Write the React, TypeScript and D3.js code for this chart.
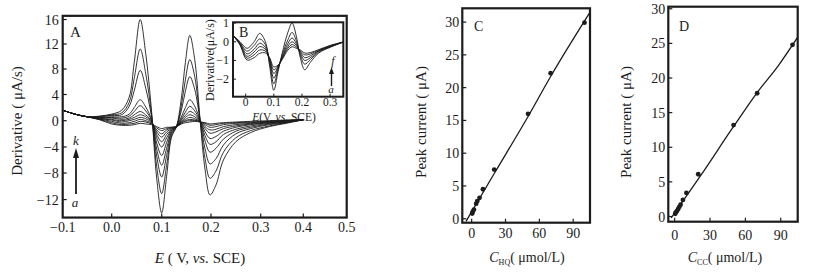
import React from 'react';
import * as d3 from 'd3';

// ---------- Panel A data (derivative voltammograms, curves a..k) ----------
const potA = [-0.1, -0.075, -0.05, -0.025, 0, 0.02, 0.035, 0.045, 0.057, 0.068, 0.08, 0.09, 0.1, 0.11, 0.12, 0.13, 0.14, 0.148, 0.157, 0.167, 0.178, 0.188, 0.198, 0.21, 0.225, 0.25, 0.28, 0.32, 0.36, 0.4];
const curveA_a = [1.6, 1.0, 0.6, 0.15, -0.5, -0.7, -0.7, -0.6, -0.4, -0.5, -0.6, -0.9, -1.2, -1.0, -1.0, -0.9, -0.5, -0.3, -0.2, -0.1, -0.2, -0.3, -0.5, -0.4, -0.3, -0.2, -0.1, 0.0, 0.1, 0.15];
const curveA_b = [1.6, 1.0, 0.6, 0.2, -0.3, -0.6, -0.5, -0.4, -0.1, -0.2, -0.5, -1.1, -1.5, -1.2, -1.0, -0.9, -0.4, -0.1, 0.0, 0.0, -0.15, -0.4, -0.7, -0.6, -0.4, -0.3, -0.2, -0.1, 0.05, 0.15];
const curveA_c = [1.6, 1.0, 0.6, 0.25, -0.1, -0.4, -0.3, -0.1, 0.2, 0.0, -0.4, -1.4, -2.0, -1.4, -1.1, -0.9, -0.3, 0.0, 0.2, 0.1, -0.15, -0.6, -1.0, -0.9, -0.6, -0.4, -0.3, -0.1, 0.0, 0.15];
const curveA_d = [1.6, 1.0, 0.6, 0.3, 0.1, -0.2, 0.0, 0.2, 0.5, 0.3, -0.3, -1.7, -2.5, -1.7, -1.2, -0.9, -0.2, 0.2, 0.5, 0.3, -0.1, -0.9, -1.4, -1.3, -0.9, -0.6, -0.4, -0.2, 0.0, 0.15];
const curveA_e = [1.6, 1.0, 0.6, 0.35, 0.2, 0.0, 0.2, 0.5, 0.9, 0.6, -0.2, -2.1, -3.2, -2.1, -1.3, -0.9, -0.1, 0.5, 0.9, 0.6, -0.1, -1.2, -1.9, -1.7, -1.2, -0.8, -0.5, -0.3, -0.1, 0.15];
const curveA_f = [1.6, 1.0, 0.6, 0.4, 0.4, 0.2, 0.4, 0.9, 1.4, 0.9, -0.1, -2.6, -4.0, -2.6, -1.4, -0.9, 0.1, 0.8, 1.4, 1.0, -0.1, -1.7, -2.7, -2.4, -1.6, -1.0, -0.6, -0.3, -0.1, 0.15];
const curveA_g = [1.6, 1.0, 0.6, 0.45, 0.5, 0.4, 0.7, 1.4, 2.3, 1.5, 0.0, -3.4, -5.3, -3.3, -1.5, -0.9, 0.3, 1.3, 2.2, 1.5, -0.05, -2.3, -3.6, -3.2, -2.1, -1.3, -0.8, -0.4, -0.2, 0.15];
const curveA_h = [1.6, 1.0, 0.6, 0.5, 0.6, 0.6, 1.0, 2.0, 3.2, 2.1, 0.1, -4.3, -6.8, -4.2, -1.7, -0.9, 0.6, 2.0, 3.2, 2.2, -0.05, -3.1, -4.8, -4.2, -2.8, -1.6, -1.0, -0.5, -0.2, 0.15];
const curveA_i = [1.6, 1.0, 0.6, 0.6, 0.8, 0.9, 2.2, 4.6, 7.8, 5.0, 0.5, -5.4, -8.6, -5.3, -1.9, -0.9, 1.6, 4.5, 6.8, 4.8, 0.0, -4.3, -6.6, -5.8, -3.7, -2.0, -1.2, -0.6, -0.3, 0.15];
const curveA_j = [1.6, 1.0, 0.6, 0.65, 0.9, 1.2, 2.8, 6.5, 11.2, 7.3, 0.8, -7.0, -11.1, -6.8, -2.2, -0.9, 2.4, 6.3, 9.5, 6.8, 0.0, -5.8, -8.8, -7.7, -4.8, -2.6, -1.5, -0.8, -0.3, 0.15];
const curveA_k = [1.6, 1.0, 0.6, 0.7, 1.0, 1.6, 3.6, 9.0, 16.0, 10.5, 1.2, -8.8, -14.0, -8.5, -2.5, -0.9, 3.5, 9.0, 13.4, 9.5, 0.0, -7.5, -11.3, -9.8, -6.0, -3.2, -1.8, -0.9, -0.4, 0.15];
const seriesA = [curveA_a, curveA_b, curveA_c, curveA_d, curveA_e, curveA_f, curveA_g, curveA_h, curveA_i, curveA_j, curveA_k];
const ticksAx = [-0.1, 0, 0.1, 0.2, 0.3, 0.4, 0.5];
const labelsAx = ['\u22120.1', '0.0', '0.1', '0.2', '0.3', '0.4', '0.5'];
const ticksAy = [16, 12, 8, 4, 0, -4, -8, -12];

// ---------- Inset B data (curves a..f) ----------
const potB = [-0.045, -0.02, 0.005, 0.03, 0.05, 0.07, 0.085, 0.1, 0.115, 0.13, 0.15, 0.165, 0.18, 0.195, 0.21, 0.23, 0.26, 0.3, 0.35];
const curveB_a = [0.35, -0.18, -0.98, -0.85, -0.62, -0.6, -0.85, -1.35, -1.25, -0.95, -0.45, -0.27, -0.35, -0.45, -0.6, -0.58, -0.42, -0.2, 0.0];
const curveB_b = [0.35, -0.15, -0.88, -0.7, -0.44, -0.5, -0.9, -1.5, -1.3, -0.9, -0.35, -0.15, -0.28, -0.5, -0.7, -0.65, -0.45, -0.22, 0.0];
const curveB_c = [0.35, -0.12, -0.78, -0.55, -0.26, -0.4, -0.95, -1.7, -1.35, -0.85, -0.25, 0.0, -0.2, -0.55, -0.85, -0.75, -0.48, -0.24, 0.0];
const curveB_d = [0.35, -0.1, -0.65, -0.4, -0.08, -0.3, -1.0, -1.95, -1.4, -0.8, -0.1, 0.2, -0.1, -0.65, -1.0, -0.85, -0.5, -0.26, 0.0];
const curveB_e = [0.35, -0.05, -0.5, -0.2, 0.15, -0.15, -1.1, -2.25, -1.5, -0.7, 0.1, 0.5, 0.05, -0.75, -1.2, -0.95, -0.55, -0.28, 0.0];
const curveB_f = [0.35, 0.0, -0.35, 0.0, 0.45, 0.0, -1.3, -2.6, -1.6, -0.6, 0.5, 1.0, 0.3, -0.9, -1.5, -1.1, -0.6, -0.3, 0.0];
const seriesB = [curveB_a, curveB_b, curveB_c, curveB_d, curveB_e, curveB_f];
const ticksBx = [0, 0.1, 0.2, 0.3];
const labelsBx = ['0', '0.1', '0.2', '0.3'];
const ticksBy = [1, 0, -1, -2];

// ---------- Panel C data (HQ calibration) ----------
const concHQ = [0.5, 1, 2, 4, 5, 7, 10, 20, 50, 70, 100];
const currentHQ = [0.8, 1.1, 1.4, 2.3, 2.7, 3.2, 4.5, 7.5, 16.0, 22.2, 29.9];
const fitHQx = [-5, 20, 50, 70, 106];
const fitHQy = [-0.4, 6.9, 15.6, 21.7, 31.8];

// ---------- Panel D data (CC calibration) ----------
const concCC = [0.5, 1, 2, 3, 4, 5, 7, 10, 20, 50, 70, 100];
const currentCC = [0.4, 0.6, 0.8, 1.1, 1.4, 1.7, 2.4, 3.4, 6.1, 13.2, 17.8, 24.8];
const fitCCx = [-3, 22, 50, 70, 88, 106];
const fitCCy = [-0.2, 5.9, 13.0, 17.9, 21.8, 26.3];

const ticksCDx = [0, 30, 60, 90];
const ticksCDy = [0, 5, 10, 15, 20, 25, 30];

const FONT = "'Liberation Serif','Times New Roman',Times,serif";
const INK = '#1c1c1c';

function fmt(v: number) {
  return v < 0 ? '\u2212' + Math.abs(v) : String(v);
}

export default function App() {
  // Panel A scales (polylinear to follow the printed tick spacing)
  const xA = d3.scaleLinear().domain(ticksAx).range([62.7, 111.7, 161.7, 211, 260.7, 303.3, 346.7]);
  const yA = d3.scaleLinear().domain([-12, -8, -4, 0, 4, 8, 12, 16]).range([199.6, 173, 147, 120.7, 94.5, 69, 44, 19.5]);
  const aL = xA(-0.1), aR = xA(0.5), aT = yA(16.6), aB = yA(-14.7);

  const lineA = d3.line<[number, number]>().x(d => xA(d[0])).y(d => yA(d[1])).curve(d3.curveCatmullRom.alpha(0.5));

  // Inset B
  const xB = d3.scaleLinear().domain([-0.045, 0.347]).range([233, 343.3]);
  const yB = d3.scaleLinear().domain([-2.94, 1.04]).range([96.7, 22.3]);
  const lineB = d3.line<[number, number]>().x(d => xB(d[0])).y(d => yB(d[1])).curve(d3.curveCatmullRom.alpha(0.5));

  // Panel C
  const xC = d3.scaleLinear().domain([-8.3, 104.9]).range([462.3, 590]);
  const yC = d3.scaleLinear().domain([-0.6, 32.1]).range([222.7, 8.3]);
  const lineC = d3.line<[number, number]>().x(d => xC(d[0])).y(d => yC(d[1])).curve(d3.curveMonotoneX);

  // Panel D
  const xD = d3.scaleLinear().domain([-5.4, 104.4]).range([668.3, 797.7]);
  const yD = d3.scaleLinear().domain([-0.75, 30.3]).range([221.7, 6.7]);
  const lineD = d3.line<[number, number]>().x(d => xD(d[0])).y(d => yD(d[1])).curve(d3.curveMonotoneX);

  const cL = xC.range()[0], cR = xC.range()[1], cT = yC.range()[1], cB = yC.range()[0];
  const dL = xD.range()[0], dR = xD.range()[1], dT = yD.range()[1], dB = yD.range()[0];

  const bL = xB.range()[0], bR = xB.range()[1], bT = yB.range()[1], bBo = yB.range()[0];

  const textProps = { fontFamily: FONT, fill: INK } as const;

  return (
    <svg width={815} height={272} style={{ position: 'absolute', left: 0, top: 0, background: '#fff' }}>
      <defs>
        <clipPath id="clipA"><rect x={aL} y={aT} width={aR - aL} height={aB - aT} /></clipPath>
        <clipPath id="clipB"><rect x={bL} y={bT} width={bR - bL} height={bBo - bT} /></clipPath>
        <clipPath id="clipC"><rect x={cL} y={cT} width={cR - cL} height={cB - cT} /></clipPath>
        <clipPath id="clipD"><rect x={dL} y={dT} width={dR - dL} height={dB - dT} /></clipPath>
      </defs>
      <rect x={0} y={0} width={815} height={272} fill="#fff" />

      {/* ================= Panel A ================= */}
      <g clipPath="url(#clipA)">
        {seriesA.map((vals, i) => (
          <path key={i} d={lineA(potA.map((p, j) => [p, vals[j]] as [number, number])) || ''} fill="none" stroke={INK} strokeWidth={0.9} />
        ))}
      </g>
      <rect x={aL} y={aT} width={aR - aL} height={aB - aT} fill="none" stroke={INK} strokeWidth={2.2} />
      {ticksAx.slice(1, -1).map(t => (
        <line key={t} x1={xA(t)} x2={xA(t)} y1={aB} y2={aB - 4} stroke={INK} strokeWidth={1.2} />
      ))}
      {ticksAx.map((t, i) => (
        <text key={t} x={xA(t)} y={232} textAnchor="middle" fontSize={14} {...textProps}>{labelsAx[i]}</text>
      ))}
      {ticksAy.map(t => (
        <g key={t}>
          <line x1={aL} x2={aL + 4} y1={yA(t)} y2={yA(t)} stroke={INK} strokeWidth={1.2} />
          <text x={aL - 4} y={yA(t) + 5} textAnchor="end" fontSize={14} {...textProps}>{fmt(t)}</text>
        </g>
      ))}
      <text x={200} y={263} textAnchor="middle" fontSize={15} {...textProps}>
        <tspan fontStyle="italic">E</tspan> ( V, <tspan fontStyle="italic">vs.</tspan> SCE)
      </text>
      <text transform="translate(22,121) rotate(-90)" textAnchor="middle" fontSize={15} {...textProps}>Derivative ( μA/s)</text>
      <text x={70} y={37} fontSize={15} {...textProps}>A</text>
      {/* arrow a -> k */}
      <line x1={76} x2={76} y1={194} y2={156} stroke={INK} strokeWidth={1.8} />
      <path d="M76,148 L73,158 L79,158 Z" fill={INK} />
      <text x={76} y={145} textAnchor="middle" fontSize={13} fontStyle="italic" {...textProps}>k</text>
      <text x={75} y={207} textAnchor="middle" fontSize={13} fontStyle="italic" {...textProps}>a</text>

      {/* ================= Inset B ================= */}
      <rect x={bL} y={bT} width={bR - bL} height={bBo - bT} fill="#fff" />
      <g clipPath="url(#clipB)">
        {seriesB.map((vals, i) => (
          <path key={i} d={lineB(potB.map((p, j) => [p, vals[j]] as [number, number])) || ''} fill="none" stroke={INK} strokeWidth={0.9} />
        ))}
      </g>
      <rect x={bL} y={bT} width={bR - bL} height={bBo - bT} fill="none" stroke={INK} strokeWidth={2} />
      {ticksBx.map((t, i) => (
        <g key={t}>
          <line x1={xB(t)} x2={xB(t)} y1={bBo} y2={bBo - 3} stroke={INK} strokeWidth={1} />
          <text x={xB(t)} y={105.5} textAnchor="middle" fontSize={11.5} {...textProps}>{labelsBx[i]}</text>
        </g>
      ))}
      {ticksBy.map(t => (
        <g key={t}>
          <line x1={bL} x2={bL + 3} y1={yB(t)} y2={yB(t)} stroke={INK} strokeWidth={1} />
          <text x={bL - 4} y={yB(t) + 4} textAnchor="end" fontSize={12} {...textProps}>{fmt(t)}</text>
        </g>
      ))}
      <text x={284} y={120.5} textAnchor="middle" fontSize={11.5} {...textProps}>
        <tspan fontStyle="italic">E</tspan>(V, <tspan fontStyle="italic">vs.</tspan> SCE)
      </text>
      <text transform="translate(214,60) rotate(-90)" textAnchor="middle" fontSize={12} {...textProps}>Derivative(μA/s)</text>
      <text x={239} y={37} fontSize={14} {...textProps}>B</text>
      <line x1={331.5} x2={331.5} y1={86} y2={73} stroke={INK} strokeWidth={1.4} />
      <path d="M331.5,67 L329,74 L334,74 Z" fill={INK} />
      <text x={333} y={65} textAnchor="middle" fontSize={12} fontStyle="italic" {...textProps}>f</text>
      <text x={331} y={93} textAnchor="middle" fontSize={11} fontStyle="italic" {...textProps}>a</text>

      {/* ================= Panel C ================= */}
      <g clipPath="url(#clipC)">
        <path d={lineC(fitHQx.map((x, i) => [x, fitHQy[i]] as [number, number])) || ''} fill="none" stroke={INK} strokeWidth={1.3} />
        {concHQ.map((c, i) => (
          <circle key={i} cx={xC(c)} cy={yC(currentHQ[i])} r={2.4} fill={INK} />
        ))}
      </g>
      <rect x={cL} y={cT} width={cR - cL} height={cB - cT} fill="none" stroke={INK} strokeWidth={2.2} />
      {ticksCDx.map(t => (
        <g key={t}>
          <line x1={xC(t)} x2={xC(t)} y1={cB} y2={cB - 4} stroke={INK} strokeWidth={1.2} />
          <text x={xC(t)} y={238} textAnchor="middle" fontSize={14} {...textProps}>{t}</text>
        </g>
      ))}
      {ticksCDy.map(t => (
        <g key={t}>
          <line x1={cL} x2={cL + 4} y1={yC(t)} y2={yC(t)} stroke={INK} strokeWidth={1.2} />
          <text x={cL - 3} y={yC(t) + 5} textAnchor="end" fontSize={14} {...textProps}>{t}</text>
        </g>
      ))}
      <text x={474} y={31} fontSize={14} {...textProps}>C</text>
      <text transform="translate(426,122) rotate(-90)" textAnchor="middle" fontSize={15} {...textProps}>Peak  current ( μA)</text>
      <text x={527} y={262} textAnchor="middle" fontSize={14} {...textProps}>
        <tspan fontStyle="italic">C</tspan><tspan fontSize={8} dy={3}>HQ</tspan><tspan dy={-3}>( μmol/L)</tspan>
      </text>

      {/* ================= Panel D ================= */}
      <g clipPath="url(#clipD)">
        <path d={lineD(fitCCx.map((x, i) => [x, fitCCy[i]] as [number, number])) || ''} fill="none" stroke={INK} strokeWidth={1.3} />
        {concCC.map((c, i) => (
          <circle key={i} cx={xD(c)} cy={yD(currentCC[i])} r={2.4} fill={INK} />
        ))}
      </g>
      <rect x={dL} y={dT} width={dR - dL} height={dB - dT} fill="none" stroke={INK} strokeWidth={2.2} />
      {ticksCDx.map(t => (
        <g key={t}>
          <line x1={xD(t)} x2={xD(t)} y1={dB} y2={dB - 4} stroke={INK} strokeWidth={1.2} />
          <text x={xD(t)} y={240} textAnchor="middle" fontSize={14} {...textProps}>{t}</text>
        </g>
      ))}
      {ticksCDy.map(t => (
        <g key={t}>
          <line x1={dL} x2={dL + 4} y1={yD(t)} y2={yD(t)} stroke={INK} strokeWidth={1.2} />
          <text x={dL - 3} y={yD(t) + 5} textAnchor="end" fontSize={14} {...textProps}>{t}</text>
        </g>
      ))}
      <text x={679} y={31} fontSize={14} {...textProps}>D</text>
      <text transform="translate(631,122) rotate(-90)" textAnchor="middle" fontSize={15} {...textProps}>Peak  current ( μA)</text>
      <text x={725} y={262} textAnchor="middle" fontSize={14} {...textProps}>
        <tspan fontStyle="italic">C</tspan><tspan fontSize={8} dy={3}>CC</tspan><tspan dy={-3}>( μmol/L)</tspan>
      </text>
    </svg>
  );
}
